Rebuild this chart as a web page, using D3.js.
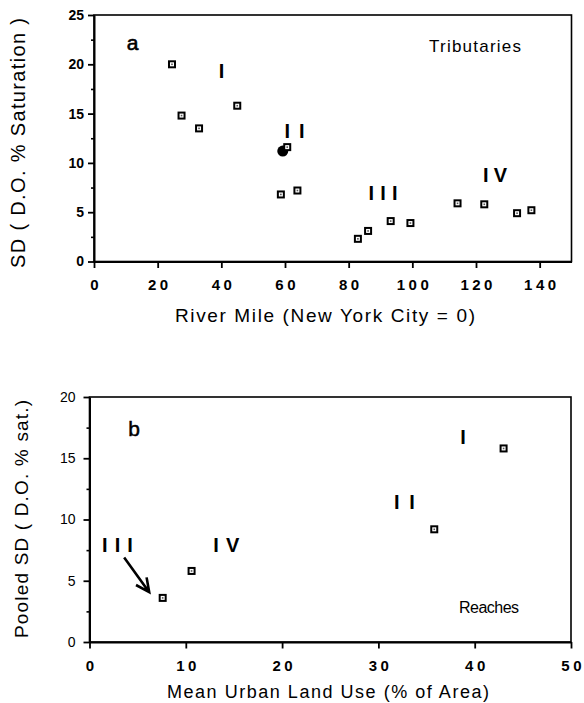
<!DOCTYPE html>
<html>
<head>
<meta charset="utf-8">
<script src="https://cdn.jsdelivr.net/npm/d3@7"></script>
<style>
  body { margin: 0; background: #fff; }
  svg { display: block; font-family: "Liberation Sans", Arial, Helvetica, sans-serif; }
</style>
</head>
<body>
<div id="chart"></div>
<script>
const WIDTH = 584;
const HEIGHT = 703;

// panel a : tributaries
const riverMile = [24.5, 27.5, 33, 45, 60.7, 58.7, 63.9, 82.9, 86.1, 93.2, 99.4, 114.2, 122.6, 132.9, 137.4];
const tribSD = [20.0, 14.8, 13.5, 15.8, 11.6, 6.8, 7.2, 2.3, 3.1, 4.1, 3.9, 5.9, 5.8, 4.9, 5.2];
// filled dot hiding under the square near mile 60
const blobMile = [59.3];
const blobSD = [11.2];
const topXTicks = [0, 20, 40, 60, 80, 100, 120, 140];
const topYTicks = [0, 5, 10, 15, 20, 25];
const topYMinor = [2.5, 7.5, 12.5, 17.5, 22.5];

// panel b : reaches
const urbanUse = [7.6, 10.6, 35.8, 43.0];
const pooledSD = [3.6, 5.8, 9.2, 15.8];
const botXTicks = [0, 10, 20, 30, 40, 50];
const botYTicks = [0, 5, 10, 15, 20];
const botYMinor = [2.5, 7.5, 12.5, 17.5];

// reach labels (text, anchor in data units)
const topReachText = ["I", "I I", "I I I", "I V"];
const topReachX = [40.1, 63.0, 90.8, 126.0];
const topReachY = [19.3, 13.2, 6.9, 8.8];
const botReachText = ["I", "I I", "I I I", "I V"];
const botReachX = [38.8, 32.7, 2.9, 14.2];
const botReachY = [16.7, 11.4, 7.9, 7.9];

const svg = d3.select('#chart').append('svg')
  .attr('width', WIDTH)
  .attr('height', HEIGHT);

// scales
const xA = d3.scaleLinear().domain([0, 150]).range([94, 571.5]);
const yA = d3.scaleLinear().domain([0, 25]).range([261.5, 15]);
const xB = d3.scaleLinear().domain([0, 50]).range([89.5, 571]);
const yB = d3.scaleLinear().domain([0, 20]).range([642, 397]);

function frame(x, y) {
  svg.append('rect')
    .attr('x', x.range()[0]).attr('y', y.range()[1])
    .attr('width', x.range()[1] - x.range()[0])
    .attr('height', y.range()[0] - y.range()[1])
    .attr('fill', 'none').attr('stroke', '#000').attr('stroke-width', 1.6);
}

function axes(x, y, xt, yt, ym, opt) {
  const gx = svg.append('g')
    .attr('transform', 'translate(0,' + y.range()[0] + ')')
    .call(d3.axisBottom(x).tickValues(xt).tickFormat(d3.format('d'))
      .tickSize(6.5).tickSizeOuter(0).tickPadding(opt.xpad));
  gx.select('.domain').attr('stroke-width', 2);
  gx.selectAll('.tick line').attr('stroke-width', 1.8);
  gx.selectAll('text')
    .attr('font-size', 15).attr('font-weight', 'bold')
    .attr('letter-spacing', 3.5).attr('dx', 1.7).attr('fill', '#000');

  const gy = svg.append('g')
    .attr('transform', 'translate(' + x.range()[0] + ',0)')
    .call(d3.axisLeft(y).tickValues(yt).tickSize(6).tickSizeOuter(0).tickPadding(opt.ypad));
  gy.select('.domain').attr('stroke-width', 2);
  gy.selectAll('.tick line').attr('stroke-width', 1.8);
  gy.selectAll('text')
    .attr('font-size', 14).attr('font-weight', opt.yweight).attr('fill', '#000');

  svg.append('g')
    .attr('transform', 'translate(' + x.range()[0] + ',0)')
    .call(d3.axisLeft(y).tickValues(ym).tickSize(3).tickFormat(''))
    .call(g => g.select('.domain').remove())
    .selectAll('.tick line').attr('stroke-width', 1.6);
}

function squares(x, y, xs, ys) {
  const g = svg.append('g');
  const pts = g.selectAll('g.pt').data(xs.map((d, i) => [d, ys[i]]))
    .enter().append('g').attr('class', 'pt')
    .attr('transform', d => 'translate(' + x(d[0]) + ',' + y(d[1]) + ')');
  pts.append('rect').attr('x', -4).attr('y', -4).attr('width', 8).attr('height', 8).attr('fill', '#000');
  pts.append('rect').attr('x', -2).attr('y', -2).attr('width', 4).attr('height', 4).attr('fill', '#fff');
  pts.append('rect').attr('x', -0.8).attr('y', -0.8).attr('width', 1.6).attr('height', 1.6).attr('fill', '#555');
}

function label(txt, px, py, size, weight, len, anchor) {
  const t = svg.append('text')
    .attr('x', px).attr('y', py)
    .attr('font-size', size).attr('font-weight', weight)
    .attr('text-anchor', anchor || 'middle')
    .text(txt);
  if (len) t.attr('textLength', len).attr('lengthAdjust', 'spacing');
  return t;
}

// ---------- panel a ----------
frame(xA, yA);
axes(xA, yA, topXTicks, topYTicks, topYMinor, { xpad: 11, ypad: 4, yweight: 'bold' });

svg.append('g').selectAll('circle')
  .data(blobMile.map((d, i) => [d, blobSD[i]]))
  .enter().append('circle')
  .attr('cx', d => xA(d[0])).attr('cy', d => yA(d[1]))
  .attr('r', 5.5).attr('fill', '#000');
squares(xA, yA, riverMile, tribSD);

label('a', 132.5, 49.5, 21, 'normal').attr('stroke', '#000').attr('stroke-width', 0.6);
label('Tributaries', 475, 52, 17, 'normal', 92);
const topLens = [3, 20, 29, 24];
topReachText.forEach((t, i) => {
  label(t, xA(topReachX[i]), yA(topReachY[i]) + 7, 20, 'bold', topLens[i]);
});

label('River Mile (New York City = 0)', 325, 321.5, 19, 'normal', 300);
svg.append('text')
  .attr('transform', 'translate(25,143) rotate(-90)')
  .attr('text-anchor', 'middle').attr('font-size', 20)
  .attr('textLength', 250).attr('lengthAdjust', 'spacing')
  .text('SD ( D.O. % Saturation )');

// ---------- panel b ----------
frame(xB, yB);
axes(xB, yB, botXTicks, botYTicks, botYMinor, { xpad: 12, ypad: 8, yweight: 'normal' });
squares(xB, yB, urbanUse, pooledSD);

label('b', 134, 436, 21, 'normal').attr('stroke', '#000').attr('stroke-width', 0.5);
label('Reaches', 489, 613, 16, 'normal', 60);
const botLens = [3, 21, 31, 26];
botReachText.forEach((t, i) => {
  label(t, xB(botReachX[i]), yB(botReachY[i]) + 7, 20, 'bold', botLens[i]);
});

// arrow from "III" to its point
const arrowFrom = [3.6, 6.9];
const arrowTo = [6.2, 4.07];
const ax0 = xB(arrowFrom[0]), ay0 = yB(arrowFrom[1]);
const ax1 = xB(arrowTo[0]), ay1 = yB(arrowTo[1]);
const ang = Math.atan2(ay1 - ay0, ax1 - ax0);
const head = 15, spread = 0.45;
svg.append('path')
  .attr('d', 'M' + ax0 + ',' + ay0 + 'L' + ax1 + ',' + ay1 +
    'M' + (ax1 - head * Math.cos(ang - spread)) + ',' + (ay1 - head * Math.sin(ang - spread)) +
    'L' + ax1 + ',' + ay1 +
    'L' + (ax1 - head * Math.cos(ang + spread)) + ',' + (ay1 - head * Math.sin(ang + spread)))
  .attr('fill', 'none').attr('stroke', '#000').attr('stroke-width', 2.6);

label('Mean Urban Land Use (% of Area)', 328, 698, 18, 'normal', 322);
svg.append('text')
  .attr('transform', 'translate(28,519) rotate(-90)')
  .attr('text-anchor', 'middle').attr('font-size', 19)
  .attr('textLength', 238).attr('lengthAdjust', 'spacing')
  .text('Pooled SD ( D.O. % sat.)');
</script>
</body>
</html>
